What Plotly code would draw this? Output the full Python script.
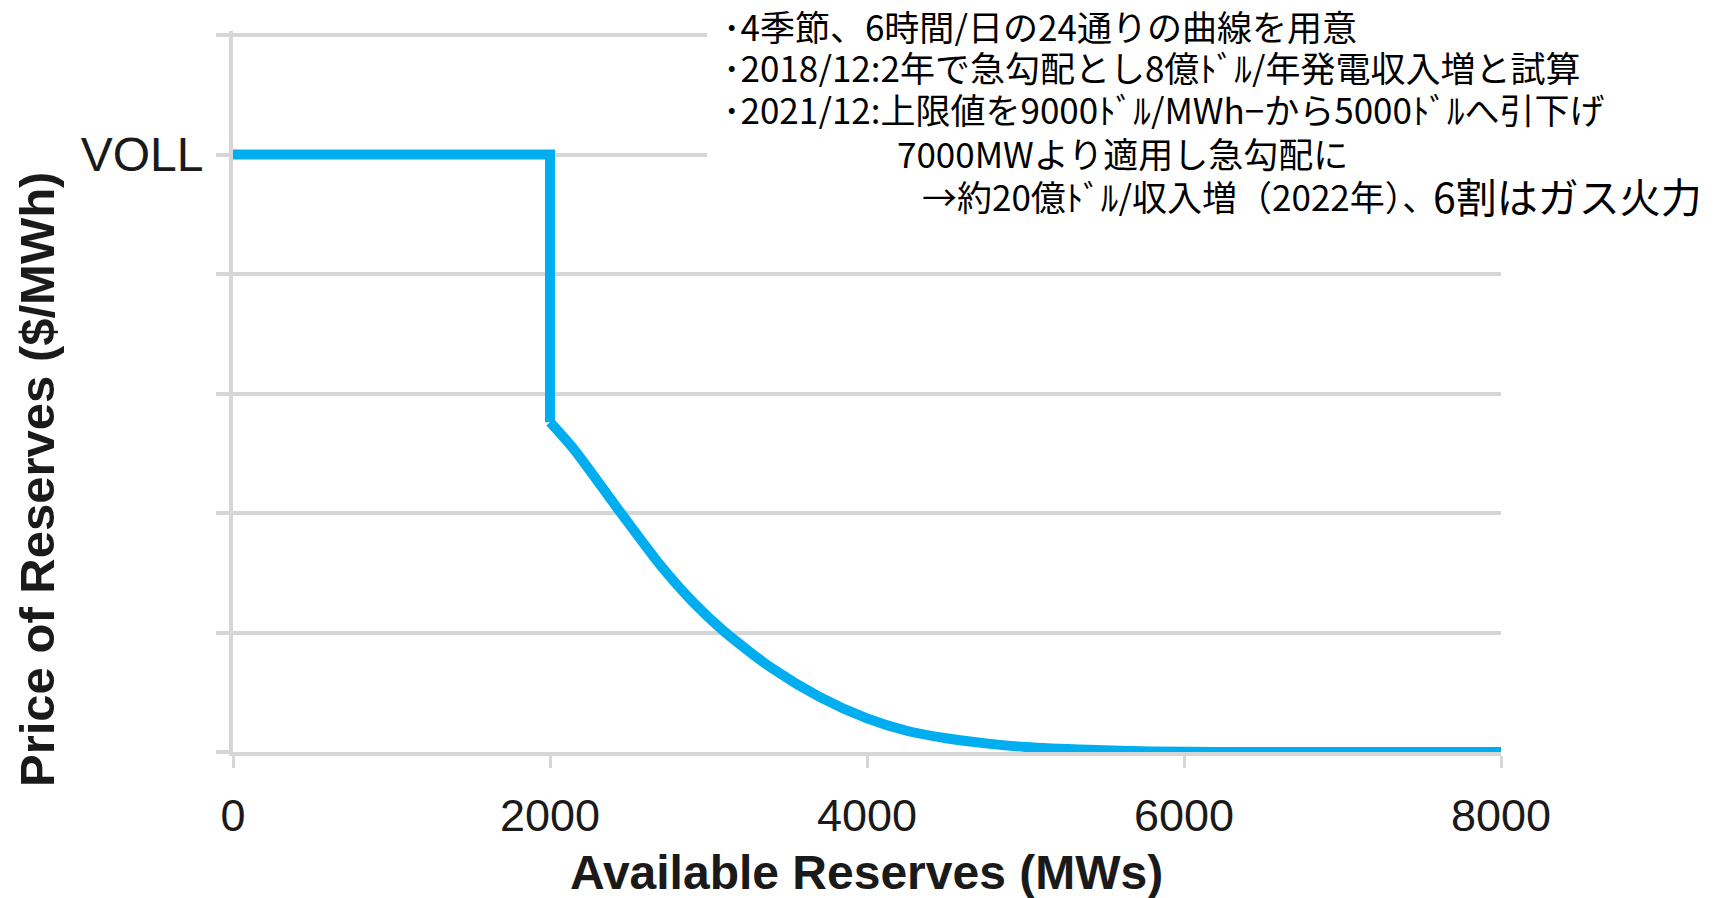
import plotly.graph_objects as go

# ---- data ----
reserves_mw = [0, 2000, 2000, 2150, 2450, 2700, 2900, 3100, 3400, 3700, 4000,
               4250, 4500, 4750, 5000, 5400, 5800, 6200, 8000]
# price in grid units (VOLL = 5 grid steps)
price_units = [5.0, 5.0, 2.76, 2.535, 1.995, 1.557, 1.257, 1.007, 0.701, 0.461,
               0.281, 0.178, 0.115, 0.072, 0.042, 0.018, 0.005, 0.0, 0.0]
x_tick_vals = [0, 2000, 4000, 6000, 8000]
x_tick_text = ["0", "2000", "4000", "6000", "8000"]
y_tick_vals = [0, 1, 2, 3, 4, 5, 6]
y_tick_text = ["", "", "", "", "", "VOLL", ""]

x_title = "Available Reserves (MWs)"
y_title = "Price of Reserves ($/MWh)"

note_lines = [
    "･4季節、6時間/日の24通りの曲線を用意",
    "･2018/12:2年で急勾配とし8億ﾄﾞﾙ/年発電収入増と試算",
    "･2021/12:上限値を9000ﾄﾞﾙ/MWh−から5000ﾄﾞﾙへ引下げ",
    "7000MWより適用し急勾配に",
    "→約20億ﾄﾞﾙ/収入増（2022年）、",
]
note_tail = "6割はガス火力"

# ---- geometry helpers (pixel layout of the 1716x898 canvas) ----
W, H = 1716, 898
L, R, T, B = 233, 215, 31, 146
PW, PH = W - L - R, H - T - B


def px(xp):
    return (xp - L) / PW


def py(yp):
    return (H - B - yp) / PH


GRID = "#d6d6d6"
LINE = "#00aeef"
TXT = "#1a1a1a"

fig = go.Figure()
# step part (straight segments)
fig.add_trace(go.Scatter(
    x=reserves_mw[:3], y=price_units[:3], mode="lines",
    line=dict(color=LINE, width=10),
    cliponaxis=False, hoverinfo="skip", showlegend=False,
))
# smooth decaying part
fig.add_trace(go.Scatter(
    x=reserves_mw[2:], y=price_units[2:], mode="lines",
    line=dict(color=LINE, width=10, shape="spline", smoothing=0.7),
    cliponaxis=False, hoverinfo="skip", showlegend=False,
))

fig.update_layout(
    width=W, height=H,
    margin=dict(l=L, r=R, t=T, b=B, autoexpand=False),
    paper_bgcolor="white", plot_bgcolor="white",
    showlegend=False,
    xaxis=dict(
        range=[0, 8000], tickvals=x_tick_vals, ticktext=x_tick_text,
        showgrid=False, zeroline=False, automargin=False,
        showline=True, linecolor=GRID, linewidth=4,
        ticks="outside", ticklen=12, tickwidth=3, tickcolor=GRID,
        ticklabelstandoff=9,
        tickfont=dict(family="Liberation Sans, Arial", size=45, color=TXT),
    ),
    yaxis=dict(
        range=[0, PH / 119.5], tickvals=y_tick_vals, ticktext=y_tick_text,
        showgrid=True, gridcolor=GRID, gridwidth=4, zeroline=False,
        automargin=False,
        showline=True, linecolor=GRID, linewidth=4,
        ticks="outside", ticklen=13, tickwidth=4, tickcolor=GRID,
        ticklabelstandoff=3,
        tickfont=dict(family="Liberation Sans, Arial", size=48, color=TXT),
    ),
)

# white box behind the notes (covers gridlines there)
fig.add_shape(type="rect", xref="paper", yref="paper",
              x0=px(707), x1=px(W + 5), y0=py(232), y1=py(-5),
              fillcolor="white", line=dict(width=0), layer="above")

# axis titles
fig.add_annotation(text="<b>" + x_title + "</b>", xref="paper", yref="paper",
                   x=px(866), y=py(872), xanchor="center", yanchor="middle",
                   showarrow=False,
                   font=dict(family="Liberation Sans, Arial", size=48, color=TXT))
fig.add_annotation(text="<b>" + y_title + "</b>", xref="paper", yref="paper",
                   x=px(37), y=py(480), xanchor="center", yanchor="middle",
                   textangle=-90, showarrow=False,
                   font=dict(family="Liberation Sans, Arial", size=49, color=TXT))

# notes
jp = "Noto Sans CJK JP"
line_x = [722, 722, 722, 896, 921]
line_y = [25, 67, 109, 152, 195]
for t, xx, yy in zip(note_lines, line_x, line_y):
    fig.add_annotation(text=t, xref="paper", yref="paper",
                       x=px(xx), y=py(yy), xanchor="left", yanchor="middle",
                       showarrow=False, borderpad=0, height=41,
                       font=dict(family=jp, size=35, color="black"))
fig.add_annotation(text=note_tail, xref="paper", yref="paper",
                   x=px(1703), y=py(195), xanchor="right", yanchor="middle",
                   showarrow=False, borderpad=0, height=44,
                   font=dict(family=jp, size=41, color="black"))

fig.write_html("out.html", config={"displayModeBar": False},
               post_script="document.body.style.margin='0';document.body.style.overflow='hidden';")
